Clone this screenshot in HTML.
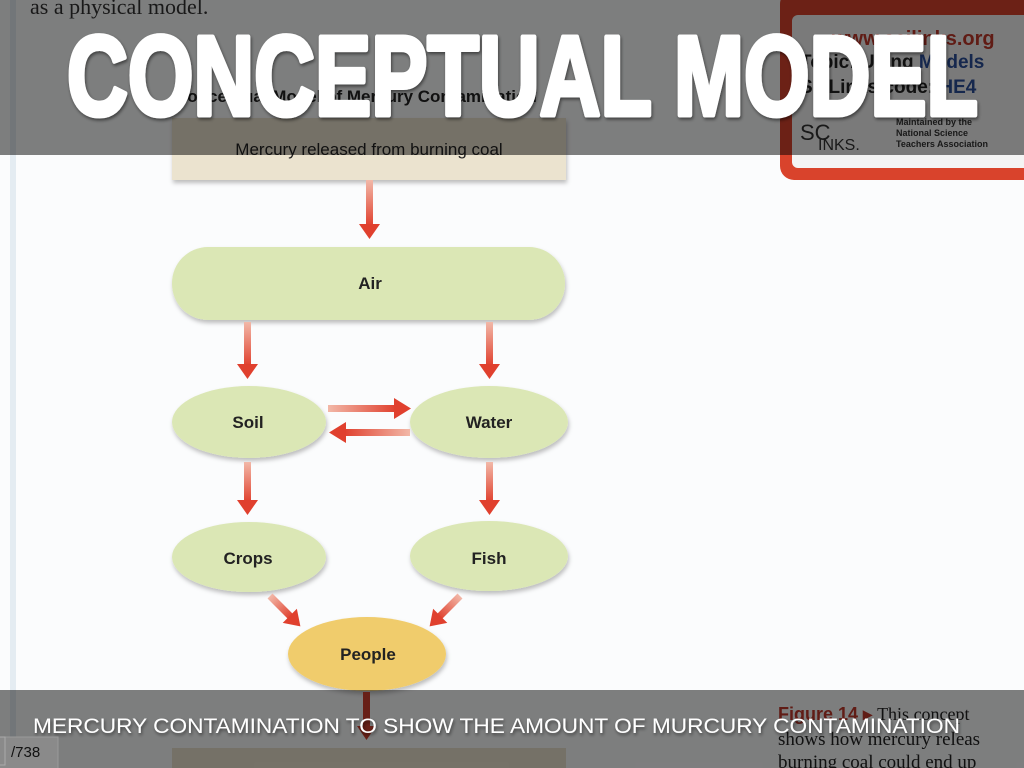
<!DOCTYPE html>
<html><head><meta charset="utf-8"><style>
html,body{margin:0;padding:0;width:1024px;height:768px;overflow:hidden;background:#fff}
svg{display:block}
</style></head><body>
<svg width="1024" height="768" viewBox="0 0 1024 768" xmlns="http://www.w3.org/2000/svg">
<defs>
<linearGradient id="ar" x1="0" y1="0" x2="0" y2="1"><stop offset="0" stop-color="#f2b8a8"/><stop offset="1" stop-color="#e0402e"/></linearGradient>
<linearGradient id="arh" x1="0" y1="0" x2="1" y2="0"><stop offset="0" stop-color="#f2b8a8"/><stop offset="1" stop-color="#e0402e"/></linearGradient>
<linearGradient id="arhl" x1="1" y1="0" x2="0" y2="0"><stop offset="0" stop-color="#f2b8a8"/><stop offset="1" stop-color="#e0402e"/></linearGradient>
<filter id="sh" x="-10%" y="-10%" width="120%" height="130%"><feDropShadow dx="1" dy="3" stdDeviation="2" flood-color="#000" flood-opacity="0.25"/></filter>
<filter id="ts"><feDropShadow dx="1" dy="2" stdDeviation="1.5" flood-color="#000" flood-opacity="0.5"/></filter>
</defs>
<rect width="1024" height="768" fill="#fbfcfd"/>
<rect x="10" y="0" width="6" height="768" fill="#e4ecf2"/>
<text x="30" y="14" font-family="Liberation Serif,serif" font-size="22" fill="#333">as a physical model.</text>
<text x="175" y="102" font-family="Liberation Sans,sans-serif" font-weight="bold" font-size="17" fill="#222">Conceptual Model of Mercury Contamination</text>
<rect x="780" y="-10" width="260" height="190" rx="14" fill="#d9432c"/>
<rect x="792" y="15" width="240" height="153" rx="6" fill="#f4f4f4"/>
<text x="832" y="45" font-family="Liberation Sans,sans-serif" font-weight="bold" font-size="20" fill="#c0392b">www.scilinks.org</text>
<text x="800" y="68" font-family="Liberation Sans,sans-serif" font-weight="bold" font-size="19" fill="#222">Topic: Using <tspan fill="#2a4f9a">Models</tspan></text>
<text x="800" y="93" font-family="Liberation Sans,sans-serif" font-weight="bold" font-size="19" fill="#222">SciLinks code: <tspan fill="#2a4f9a">HE4</tspan></text>
<text x="800" y="140" font-family="Liberation Sans,sans-serif" font-size="22" fill="#333">SC</text>
<text x="818" y="150" font-family="Liberation Sans,sans-serif" font-size="16" fill="#333">INKS.</text>
<text x="896" y="125" font-family="Liberation Sans,sans-serif" font-weight="bold" font-size="9" fill="#333">Maintained by the</text>
<text x="896" y="136" font-family="Liberation Sans,sans-serif" font-weight="bold" font-size="9" fill="#333">National Science</text>
<text x="896" y="147" font-family="Liberation Sans,sans-serif" font-weight="bold" font-size="9" fill="#333">Teachers Association</text>
<rect x="172" y="118" width="394" height="62" fill="#ebe3cf" filter="url(#sh)"/>
<text x="369" y="155" text-anchor="middle" font-family="Liberation Sans,sans-serif" font-size="17" fill="#222">Mercury released from burning coal</text>
<rect x="172" y="247" width="393" height="73" rx="36" fill="#dbe7b5" filter="url(#sh)"/>
<text x="370" y="289" text-anchor="middle" font-family="Liberation Sans,sans-serif" font-weight="bold" font-size="17" fill="#222">Air</text>
<g filter="url(#sh)" fill="#dbe7b5">
<ellipse cx="249" cy="422" rx="77" ry="36"/>
<ellipse cx="489" cy="422" rx="79" ry="36"/>
<ellipse cx="249" cy="557" rx="77" ry="35"/>
<ellipse cx="489" cy="556" rx="79" ry="35"/>
<ellipse cx="367" cy="654" rx="79" ry="37" fill="#f0cc6c"/>
</g>
<g font-family="Liberation Sans,sans-serif" font-weight="bold" font-size="17" fill="#222" text-anchor="middle">
<text x="248" y="428">Soil</text>
<text x="489" y="428">Water</text>
<text x="248" y="564">Crops</text>
<text x="489" y="564">Fish</text>
<text x="368" y="660">People</text>
</g>
<g>
<rect x="366" y="180" width="7" height="46" fill="url(#ar)"/><polygon points="359,224 380,224 369.5,239" fill="#e0402e"/>
<rect x="244" y="322" width="7" height="44" fill="url(#ar)"/><polygon points="237,364 258,364 247.5,379" fill="#e0402e"/>
<rect x="486" y="322" width="7" height="44" fill="url(#ar)"/><polygon points="479,364 500,364 489.5,379" fill="#e0402e"/>
<rect x="244" y="462" width="7" height="40" fill="url(#ar)"/><polygon points="237,500 258,500 247.5,515" fill="#e0402e"/>
<rect x="486" y="462" width="7" height="40" fill="url(#ar)"/><polygon points="479,500 500,500 489.5,515" fill="#e0402e"/>
<rect x="328" y="405" width="68" height="7" fill="url(#arh)"/><polygon points="394,398 394,419 411,408.5" fill="#e0402e"/>
<rect x="344" y="429" width="66" height="7" fill="url(#arhl)"/><polygon points="346,422 346,443 329,432.5" fill="#e0402e"/>
<g transform="translate(270,596) rotate(-45)"><rect x="-3.5" y="0" width="7" height="30" fill="url(#ar)"/><polygon points="-10,28 10,28 0,43" fill="#e0402e"/></g>
<g transform="translate(460,596) rotate(45)"><rect x="-3.5" y="0" width="7" height="30" fill="url(#ar)"/><polygon points="-10,28 10,28 0,43" fill="#e0402e"/></g>
<rect x="363" y="692" width="7" height="36" fill="#d0402e"/><polygon points="357,726 376,726 366.5,740" fill="#d0402e"/>
</g>
<rect x="172" y="748" width="394" height="30" fill="#ebe3cf"/>
<text x="778" y="720" font-family="Liberation Sans,sans-serif" font-weight="bold" font-size="18" fill="#c0392b">Figure 14 ▸ <tspan font-weight="normal" font-family="Liberation Serif,serif" fill="#222">This concept</tspan></text>
<text x="778" y="745" font-family="Liberation Serif,serif" font-size="19" fill="#222">shows how mercury releas</text>
<text x="778" y="768" font-family="Liberation Serif,serif" font-size="19" fill="#222">burning coal could end up</text>
<rect x="0" y="0" width="1024" height="155" fill="#000" fill-opacity="0.5"/>
<rect x="0" y="690" width="1024" height="78" fill="#000" fill-opacity="0.5"/>
<text x="67" y="115" textLength="911" lengthAdjust="spacingAndGlyphs" font-family="Liberation Sans,sans-serif" font-weight="bold" font-size="113" fill="#fff" stroke="#fff" stroke-width="5" stroke-linejoin="round" filter="url(#ts)">CONCEPTUAL MODEL</text>
<text x="33" y="733" textLength="927" lengthAdjust="spacingAndGlyphs" font-family="Liberation Sans,sans-serif" font-size="21.5" fill="#fff" filter="url(#ts)">MERCURY CONTAMINATION TO SHOW THE AMOUNT OF MURCURY CONTAMINATION</text>
<rect x="-1" y="737" width="59" height="32" fill="#8a8a8a" stroke="#999"/>
<rect x="-1" y="737" width="6" height="28" fill="#8a8a8a" stroke="#aaa"/>
<text x="11" y="757" font-family="Liberation Sans,sans-serif" font-size="15" fill="#111">/738</text>
</svg>
</body></html>
